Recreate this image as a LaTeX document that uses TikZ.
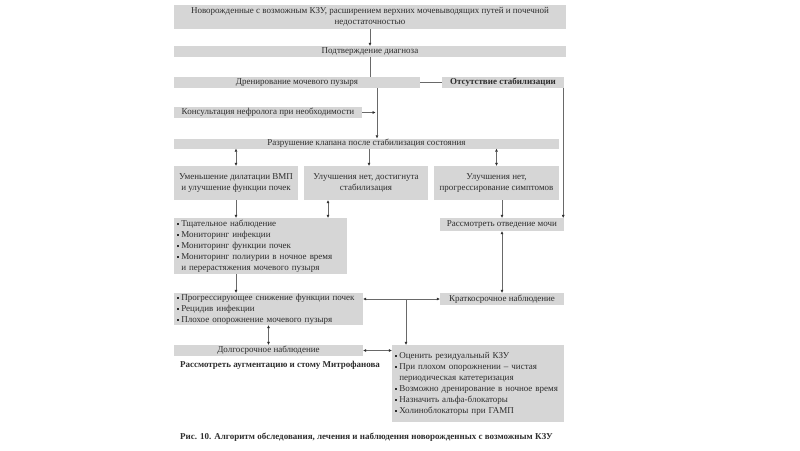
\documentclass[tikz,border=0pt]{standalone}
\usepackage{fontspec}
\setmainfont{Liberation Serif}
\usetikzlibrary{positioning,arrows.meta}
\definecolor{boxgray}{RGB}{214,214,214}
\definecolor{ink}{RGB}{45,45,45}
\definecolor{wire}{RGB}{105,105,105}
\newcommand{\bul}{\raisebox{.3ex}{\rule{1.8pt}{1.8pt}}\hspace{2.5pt}}
\newcommand{\ind}{\hspace*{4.3pt}}

\begin{document}
\begin{tikzpicture}[x=1pt,y=-1pt,
  every node/.style={inner sep=0pt,text=ink,font=\fontsize{9}{11}\selectfont},
  box/.style={fill=boxgray,minimum height=11pt},
  listbox/.style={box,align=left,inner xsep=3pt,text width=#1},
  bold/.style={font=\fontsize{9}{11}\selectfont\bfseries},
  link/.style={draw=wire,line width=.6pt},
  arr/.style={link,-{Triangle[length=3pt,width=2.6pt,color=ink]}},
  both/.style={link,{Triangle[length=3pt,width=2.6pt,color=ink]}-{Triangle[length=3pt,width=2.6pt,color=ink]}}
]
  \useasboundingbox (0,0) rectangle (800,450);

  \node[box,minimum width=392pt,minimum height=24pt,align=center] (newborn) at (370,17)
    {Новорожденные с возможным КЗУ, расширением верхних мочевыводящих путей и почечной\\недостаточностью};
  \node[box,minimum width=392pt] (confirm) at (370,51.5) {Подтверждение диагноза};
  \node[box,minimum width=246pt] (drain) at (297,82.5) {Дренирование мочевого пузыря};
  \node[box,bold,minimum width=122pt] (unstable) at (503,82.5) {Отсутствие стабилизации};
  \node[box,minimum width=188pt] (nephro) at (268,112.5) {Консультация нефролога при необходимости};
  \node[box,minimum width=385pt,minimum height=10pt] (valve) at (366.5,143.5)
    {Разрушение клапана после стабилизация состояния};

  \node[box,minimum width=124pt,minimum height=34pt,align=center] (better) at (236,183)
    {Уменьшение дилатации ВМП\\и улучшение функции почек};
  \node[box,minimum width=124pt,minimum height=34pt,align=center] (stable) at (366,183)
    {Улучшения нет, достигнута\\стабилизация};
  \node[box,minimum width=125pt,minimum height=34pt,align=center] (worsen) at (496.5,183)
    {Улучшения нет,\\прогрессирование симптомов};

  \node[listbox=167pt,minimum height=56pt] (followup) at (260.5,246)
    {\bul Тщательное наблюдение\\\bul Мониторинг инфекции\\\bul Мониторинг функции почек\\
     \bul Мониторинг полиурии в ночное время\\\ind и перерастяжения мочевого пузыря};
  \node[box,minimum width=124pt,minimum height=13pt] (diversion) at (502,224.5) {Рассмотреть отведение мочи};

  \node[listbox=183pt,minimum height=32pt] (decline) at (268.5,309)
    {\bul Прогрессирующее снижение функции почек\\\bul Рецидив инфекции\\\bul Плохое опорожнение мочевого пузыря};
  \node[box,minimum width=124pt,minimum height=12pt] (shortterm) at (502,299) {Краткосрочное наблюдение};

  \node[box,minimum width=189pt] (longterm) at (268.5,350.5) {Долгосрочное наблюдение};
  \node[bold] (augment) at (280,365) {Рассмотреть аугментацию и стому Митрофанова};
  \node[listbox=166pt,minimum height=77pt] (measures) at (478,383.5)
    {\bul Оценить резидуальный КЗУ\\\bul При плохом опорожнении – чистая\\\ind периодическая катетеризация\\
     \bul Возможно дренирование в ночное время\\\bul Назначить альфа-блокаторы\\\bul Холиноблокаторы при ГАМП};

  \node[bold,anchor=west] (caption) at (180,437)
    {Рис. 10. Алгоритм обследования, лечения и наблюдения новорожденных с возможным КЗУ};

  \draw[arr] (newborn) -- (confirm);
  \draw[link] (confirm.south) -- (confirm.south |- drain.north);
  \draw[link] (drain) -- (unstable);
  \draw[arr] ([xshift=-1pt]unstable.south east) -- ([xshift=-1pt]diversion.north east);
  \coordinate (spine) at ([xshift=80pt]drain.south);
  \draw[arr] (spine) -- (spine |- valve.north);
  \draw[arr] (nephro.east) -- ([xshift=-1.5pt]spine |- nephro.east);

  \draw[both] (valve.south -| better.north) -- (better.north);
  \draw[arr] ([xshift=3pt]valve.south -| stable.north) -- ([xshift=3pt]stable.north);
  \draw[both] (valve.south -| worsen.north) -- (worsen.north);

  \draw[arr] (better.south) -- (better.south |- followup.north);
  \draw[both] ([xshift=-38pt]stable.south) -- ([xshift=-38pt]stable.south |- followup.north);
  \draw[arr] (diversion.north |- worsen.south) -- (diversion.north);
  \draw[both] (diversion) -- (shortterm);

  \draw[arr] (better.south |- followup.south) -- (better.south |- decline.north);
  \draw[both] (decline.east |- shortterm.west) -- (shortterm.west);
  \coordinate (split) at (406,299);
  \draw[arr] (split) -- (split |- measures.north);
  \draw[both] (decline) -- (longterm);
  \draw[both] (longterm.east) -- (longterm.east -| measures.west);
\end{tikzpicture}
\end{document}
